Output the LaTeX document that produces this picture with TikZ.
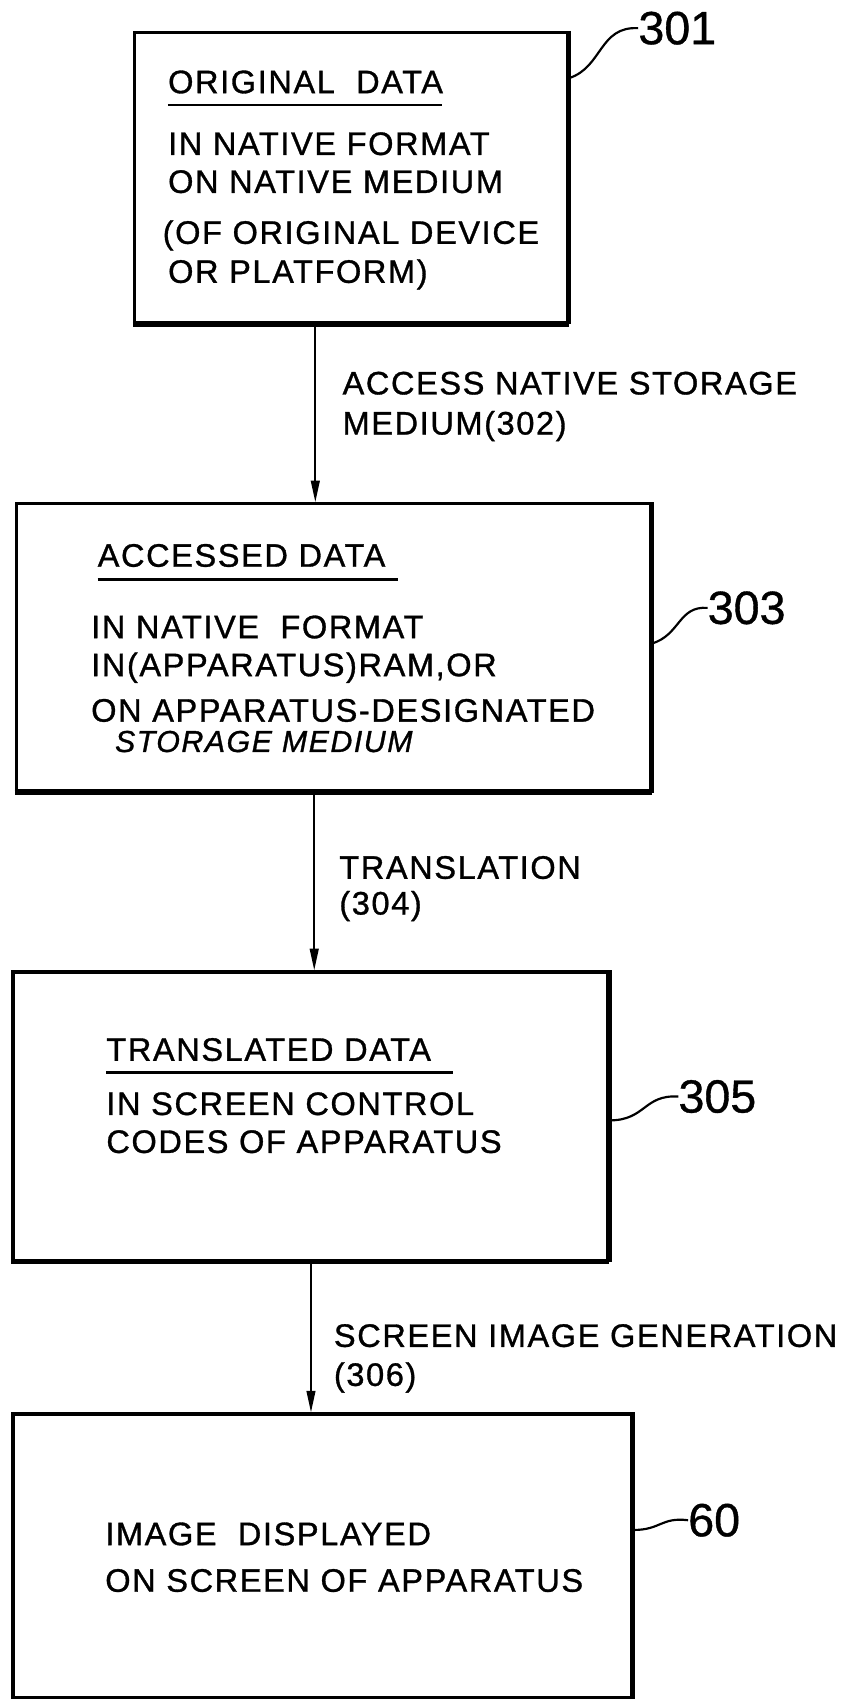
\documentclass[tikz,border=0pt]{standalone}
\usepackage{fontspec}
\setmainfont{Liberation Sans}[FakeBold=0.8]
\newfontfamily\spaced[LetterSpace=5,FakeBold=1]{Liberation Sans}
\usetikzlibrary{arrows.meta}
\begin{document}
\begin{tikzpicture}[x=1pt,y=-1pt,
  boxst/.style={draw,line width=2.9pt,rectangle,inner sep=0pt},
  txt/.style={anchor=base west,inner sep=0pt,font=\spaced\fontsize{30}{30}\selectfont},
  reftxt/.style={anchor=west,inner sep=0pt,font=\fontsize{43}{43}\selectfont},
  arr/.style={line width=2pt,-{Triangle[length=20pt,width=8pt]}},
  lead/.style={line width=2pt},
  uline/.style={line width=2.4pt}]
\useasboundingbox (0,0) rectangle (780,1568);
% boxes
\node[boxst,minimum width=400pt,minimum height=268pt] (b1) at (324,164) {};
\node[boxst,minimum width=585pt,minimum height=265pt] (b2) at (307.5,597.5) {};
\node[boxst,minimum width=549pt,minimum height=266pt] (b3) at (286.5,1030) {};
\node[boxst,minimum width=571pt,minimum height=262pt] (b4) at (297.5,1436) {};
% thick shadow edges
\draw[line width=5pt] (b1.south west) -- (b1.south east);
\draw[line width=3.8pt] (b1.north east) -- (b1.south east);
\draw[line width=5pt] (b2.south west) -- (b2.south east);
\draw[line width=3.8pt] (b2.north east) -- (b2.south east);
\draw[line width=5pt] (b3.south west) -- (b3.south east);
\draw[line width=3.8pt] (b3.north east) -- (b3.south east);
\draw[line width=3.8pt] (b4.north east) -- (b4.south east);
% box 1 text
\node[txt] (t1a) at (155,86) {ORIGINAL\ \ DATA};
\draw[uline] (t1a.base west) ++(0,11) coordinate (u1a) -- ++(253,0) coordinate (u1b);
\node[txt] (t1b) at (155,143) {IN NATIVE FORMAT};
\node[txt] (t1c) at (155,178) {ON NATIVE MEDIUM};
\node[txt] (t1d) at (150,225) {(OF ORIGINAL DEVICE};
\node[txt] (t1e) at (155,261) {OR PLATFORM)};
% box 2 text
\node[txt] (t2a) at (90,523) {ACCESSED DATA};
\draw[uline] (t2a.base west) ++(0,12) coordinate (u2a) -- ++(277,0) coordinate (u2b);
\node[txt] (t2b) at (84,589) {IN NATIVE\ \ FORMAT};
\node[txt] (t2c) at (84,624) {IN(APPARATUS)RAM,OR};
\node[txt] (t2d) at (84,666) {ON APPARATUS-DESIGNATED};
\node[txt,font=\spaced\fontsize{28}{28}\selectfont\itshape] (t2e) at (106,694) {STORAGE MEDIUM};
% box 3 text
\node[txt] (t3a) at (98,979) {TRANSLATED DATA};
\draw[uline] (t3a.base west) ++(0,11) coordinate (u3a) -- ++(320,0) coordinate (u3b);
\node[txt] (t3b) at (98,1029) {IN SCREEN CONTROL};
\node[txt] (t3c) at (98,1064) {CODES OF APPARATUS};
% box 4 text
\node[txt] (t4a) at (97,1426) {IMAGE\ \ DISPLAYED};
\node[txt] (t4b) at (97,1469) {ON SCREEN OF APPARATUS};
% arrows
\coordinate (x1) at (291,0);
\coordinate (x2) at (290,0);
\coordinate (x3) at (287,0);
\draw[arr] (x1 |- b1.south) -- (x1 |- b2.north);
\draw[arr] (x2 |- b2.south) -- (x2 |- b3.north);
\draw[arr] (x3 |- b3.south) -- (x3 |- b4.north);
% arrow labels
\node[txt] (l1a) at (316,364) {ACCESS NATIVE STORAGE};
\node[txt] (l1b) at (316,401) {MEDIUM(302)};
\node[txt] (l2a) at (313,811) {TRANSLATION};
\node[txt] (l2b) at (313,844) {(304)};
\node[txt] (l3a) at (308,1243) {SCREEN IMAGE GENERATION};
\node[txt] (l3b) at (308,1279) {(306)};
% reference numerals
\node[reftxt] (r1) at (589,26) {301};
\node[reftxt] (r2) at (653,561) {303};
\node[reftxt] (r3) at (626,1012) {305};
\node[reftxt] (r4) at (635,1403) {60};
\coordinate (p1) at (b1.east |- 0,72);
\coordinate (p2) at (b2.east |- 0,594);
\coordinate (p3) at (b3.east |- 0,1034);
\coordinate (p4) at (b4.east |- 0,1412);
\draw[lead] (p1) .. controls (556,62) and (553,24) .. (r1.west);
\draw[lead] (p2) .. controls (628,586) and (626,559) .. (r2.west);
\draw[lead] (p3) .. controls (596,1034) and (594,1010) .. (r3.west);
\draw[lead] (p4) .. controls (610,1412) and (610,1400) .. (r4.west);
\end{tikzpicture}
\end{document}
